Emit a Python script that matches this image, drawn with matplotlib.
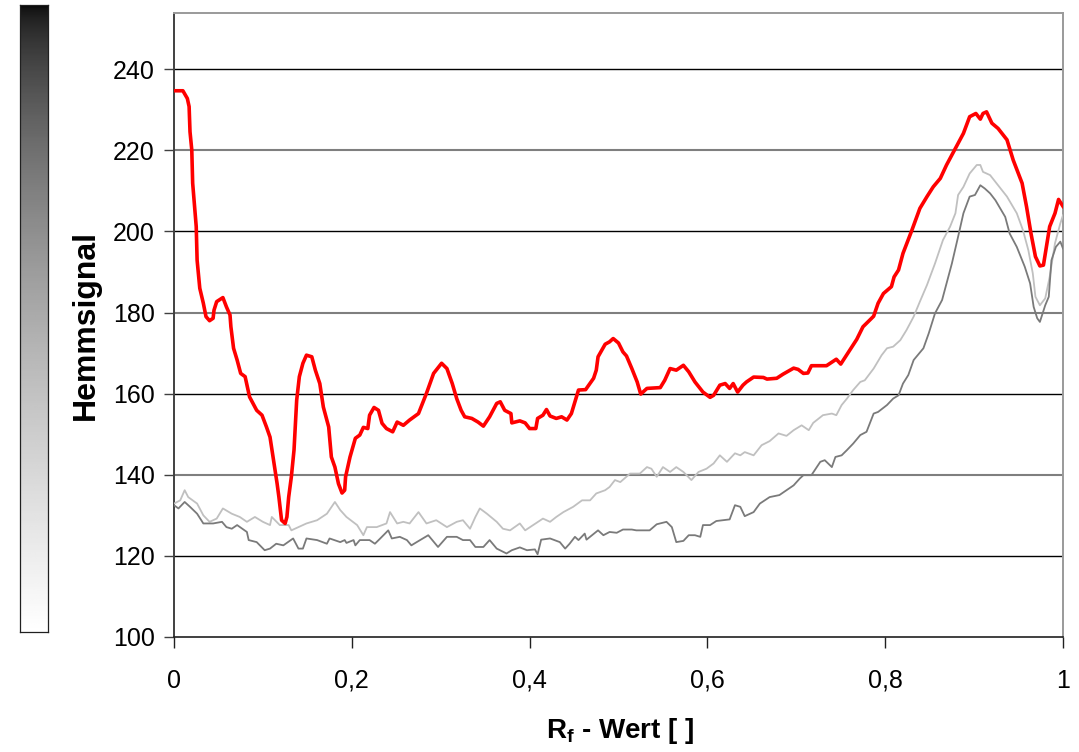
import numpy as np
import matplotlib
matplotlib.use("Agg")
import matplotlib.pyplot as plt

plt.rcParams['font.family'] = ['Liberation Sans', 'DejaVu Sans']

# ---- data (Rf value, Hemmsignal) ----
red_x = [0.000, 0.010, 0.015, 0.017, 0.018, 0.020, 0.021, 0.025, 0.026, 0.029, 0.033, 0.036, 0.040, 0.044, 0.045,
         0.048, 0.055, 0.059, 0.063, 0.064, 0.067, 0.071, 0.075, 0.080, 0.085, 0.093, 0.099, 0.104, 0.108, 0.112,
         0.116, 0.118, 0.121, 0.125, 0.127, 0.129, 0.132, 0.135, 0.138, 0.141, 0.145, 0.149, 0.155, 0.159, 0.164,
         0.168, 0.174, 0.177, 0.181, 0.185, 0.189, 0.192, 0.193, 0.198, 0.204, 0.209, 0.213, 0.218, 0.220, 0.225,
         0.230, 0.234, 0.239, 0.246, 0.251, 0.258, 0.265, 0.275, 0.284, 0.292, 0.301, 0.307, 0.313, 0.318, 0.323,
         0.327, 0.335, 0.342, 0.348, 0.355, 0.363, 0.367, 0.372, 0.379, 0.380, 0.389, 0.395, 0.400, 0.407, 0.409,
         0.415, 0.419, 0.423, 0.430, 0.436, 0.442, 0.447, 0.455, 0.463, 0.472, 0.475, 0.477, 0.485, 0.490, 0.494,
         0.500, 0.505, 0.509, 0.515, 0.521, 0.525, 0.532, 0.547, 0.552, 0.558, 0.565, 0.573, 0.579, 0.586, 0.595,
         0.603, 0.607, 0.614, 0.620, 0.625, 0.629, 0.634, 0.640, 0.644, 0.652, 0.663, 0.667, 0.678, 0.685, 0.697,
         0.702, 0.708, 0.713, 0.717, 0.734, 0.745, 0.750, 0.760, 0.768, 0.775, 0.787, 0.792, 0.798, 0.807, 0.810,
         0.815, 0.820, 0.830, 0.839, 0.847, 0.854, 0.862, 0.869, 0.878, 0.888, 0.895, 0.902, 0.907, 0.910, 0.914,
         0.920, 0.927, 0.937, 0.944, 0.954, 0.959, 0.964, 0.969, 0.974, 0.978, 0.985, 0.991, 0.995, 1.000]
red_y = [234.7, 234.7, 232.8, 230.8, 224.6, 220.1, 211.9, 201.2, 192.9, 186.0, 182.3, 179.0, 178.0, 178.6, 180.6,
         182.7, 183.7, 181.4, 179.4, 176.5, 171.2, 168.3, 165.0, 164.2, 159.2, 155.9, 154.7, 151.8, 149.3, 143.6,
         137.8, 134.5, 128.8, 128.0, 129.6, 134.5, 139.5, 146.1, 158.4, 164.2, 167.5, 169.5, 169.1, 165.8, 162.5,
         156.7, 151.8, 144.4, 141.9, 137.8, 135.5, 136.2, 139.5, 144.4, 149.0, 149.8, 151.7, 151.4, 154.7, 156.6,
         155.9, 152.7, 151.4, 150.6, 153.0, 152.2, 153.5, 155.1, 160.1, 165.0, 167.5, 166.2, 162.5, 158.8, 155.9,
         154.3, 153.9, 153.0, 152.0, 154.3, 157.6, 158.0, 155.9, 155.1, 152.8, 153.3, 152.8, 151.4, 151.4, 153.9,
         154.7, 156.1, 154.5, 153.9, 154.3, 153.5, 155.1, 160.9, 161.0, 163.8, 165.8, 169.1, 172.2, 172.8, 173.6,
         172.5, 170.3, 169.3, 166.2, 162.9, 159.9, 161.3, 161.5, 163.3, 166.2, 165.8, 167.0, 165.4, 162.9, 160.4,
         159.1, 159.6, 162.1, 162.5, 161.3, 162.5, 160.4, 162.1, 162.9, 164.1, 164.0, 163.6, 163.8, 164.8, 166.3,
         166.0, 165.0, 165.1, 166.9, 166.9, 168.5, 167.3, 170.7, 173.4, 176.5, 179.1, 182.3, 184.7, 186.4, 188.8,
         190.5, 194.6, 200.3, 205.7, 208.6, 211.0, 213.1, 216.4, 220.1, 224.2, 228.3, 229.1, 227.7, 229.1, 229.5,
         226.7, 225.4, 222.6, 217.6, 211.9, 206.1, 199.5, 193.8, 191.5, 191.7, 201.2, 204.5, 207.9, 206.2]

light_x = [0.000, 0.007, 0.012, 0.016, 0.026, 0.033, 0.040, 0.048, 0.055, 0.065, 0.074, 0.082, 0.091, 0.100, 0.108,
           0.110, 0.119, 0.129, 0.132, 0.140, 0.149, 0.161, 0.172, 0.181, 0.187, 0.194, 0.206, 0.213, 0.217, 0.228,
           0.239, 0.243, 0.251, 0.258, 0.265, 0.275, 0.284, 0.295, 0.307, 0.318, 0.325, 0.333, 0.339, 0.344, 0.352,
           0.363, 0.370, 0.378, 0.389, 0.395, 0.404, 0.415, 0.423, 0.430, 0.438, 0.449, 0.459, 0.468, 0.475, 0.485,
           0.490, 0.496, 0.502, 0.513, 0.524, 0.532, 0.537, 0.543, 0.550, 0.558, 0.565, 0.573, 0.582, 0.590, 0.599,
           0.607, 0.614, 0.622, 0.631, 0.637, 0.642, 0.652, 0.661, 0.670, 0.680, 0.689, 0.697, 0.706, 0.714, 0.719,
           0.730, 0.740, 0.745, 0.751, 0.757, 0.764, 0.772, 0.777, 0.787, 0.796, 0.802, 0.809, 0.817, 0.824, 0.832,
           0.839, 0.847, 0.856, 0.865, 0.873, 0.879, 0.882, 0.888, 0.895, 0.903, 0.907, 0.910, 0.918, 0.927, 0.937,
           0.948, 0.955, 0.961, 0.966, 0.969, 0.974, 0.980, 0.985, 0.991, 0.997, 1.000]
light_y = [132.9, 133.7, 136.2, 134.5, 132.9, 130.0, 128.4, 129.2, 131.7, 130.4, 129.6, 128.4, 129.6, 128.4, 127.6,
           129.6, 127.6, 127.6, 126.3, 127.1, 128.0, 128.8, 130.4, 133.3, 131.3, 129.6, 127.6, 125.1, 127.1, 127.1,
           128.0, 130.8, 128.0, 128.4, 128.0, 130.8, 128.0, 128.8, 127.1, 128.4, 128.8, 126.7, 129.6, 131.7, 130.4,
           128.4, 126.7, 126.3, 128.0, 126.3, 127.6, 129.2, 128.4, 129.6, 130.8, 132.1, 133.7, 133.7, 135.4, 136.2,
           137.0, 138.7, 138.2, 140.3, 140.3, 141.9, 141.5, 139.5, 141.9, 140.7, 141.9, 140.7, 138.7, 140.7, 141.5,
           142.8, 144.8, 143.2, 145.3, 144.8, 145.6, 144.8, 147.3, 148.3, 150.2, 149.6, 151.0, 152.2, 151.0, 152.8,
           154.7, 155.1, 154.7, 157.2, 158.8, 160.9, 162.9, 163.3, 166.2, 169.5, 171.2, 171.6, 173.2, 175.7, 179.0,
           182.7, 186.8, 192.1, 197.9, 201.2, 204.5, 209.0, 211.0, 214.3, 216.4, 216.4, 214.7, 213.9, 211.4, 208.6,
           204.5, 200.3, 195.4, 189.7, 183.9, 181.8, 183.5, 188.8, 197.1, 202.0, 204.0]

dark_x = [0.000, 0.005, 0.012, 0.018, 0.026, 0.033, 0.044, 0.054, 0.059, 0.065, 0.071, 0.082, 0.084, 0.093, 0.102,
          0.108, 0.115, 0.123, 0.134, 0.140, 0.145, 0.149, 0.161, 0.172, 0.175, 0.187, 0.192, 0.194, 0.202, 0.204,
          0.209, 0.220, 0.226, 0.232, 0.241, 0.245, 0.254, 0.262, 0.267, 0.273, 0.286, 0.297, 0.307, 0.318, 0.325,
          0.333, 0.339, 0.348, 0.355, 0.363, 0.374, 0.380, 0.389, 0.397, 0.406, 0.409, 0.413, 0.423, 0.434, 0.440,
          0.445, 0.451, 0.455, 0.462, 0.464, 0.477, 0.483, 0.490, 0.498, 0.505, 0.515, 0.520, 0.535, 0.543, 0.554,
          0.560, 0.565, 0.573, 0.579, 0.586, 0.592, 0.595, 0.603, 0.610, 0.625, 0.631, 0.637, 0.642, 0.652, 0.659,
          0.670, 0.681, 0.689, 0.697, 0.704, 0.708, 0.717, 0.727, 0.732, 0.740, 0.744, 0.751, 0.757, 0.764, 0.772,
          0.779, 0.787, 0.792, 0.802, 0.809, 0.815, 0.820, 0.826, 0.832, 0.843, 0.849, 0.856, 0.864, 0.869, 0.875,
          0.882, 0.888, 0.895, 0.901, 0.907, 0.912, 0.918, 0.924, 0.935, 0.940, 0.948, 0.957, 0.963, 0.967, 0.971,
          0.974, 0.980, 0.984, 0.987, 0.992, 0.997, 1.000]
dark_y = [132.5, 131.7, 133.3, 132.1, 130.4, 128.0, 128.0, 128.4, 127.1, 126.7, 127.6, 125.9, 123.9, 123.4, 121.4,
          121.8, 123.0, 122.6, 124.3, 121.8, 121.8, 124.3, 123.9, 123.0, 124.3, 123.4, 123.9, 123.2, 123.9, 122.6,
          123.9, 123.9, 123.0, 124.3, 126.3, 124.3, 124.7, 123.9, 122.6, 123.4, 125.1, 122.2, 124.7, 124.7, 123.9,
          123.9, 122.2, 122.2, 123.9, 121.8, 120.6, 121.4, 122.1, 121.4, 121.6, 120.4, 124.0, 124.3, 123.4, 121.8,
          123.0, 124.7, 123.9, 125.5, 124.0, 126.3, 125.1, 125.9, 125.7, 126.5, 126.5, 126.3, 126.3, 127.8, 128.4,
          127.1, 123.4, 123.7, 125.1, 125.1, 124.7, 127.6, 127.6, 128.6, 129.0, 132.5, 132.1, 129.8, 130.8, 132.9,
          134.5, 135.0, 136.2, 137.4, 139.1, 139.9, 139.9, 143.2, 143.6, 141.9, 144.4, 144.8, 146.1, 147.7, 149.8,
          150.6, 155.1, 155.5, 157.2, 158.8, 159.6, 162.5, 164.6, 168.3, 171.2, 174.9, 179.8, 183.1, 187.2, 192.1,
          198.7, 204.5, 208.6, 209.0, 211.4, 210.6, 209.4, 207.7, 203.6, 199.5, 196.2, 191.3, 187.2, 181.4, 178.6,
          177.7, 181.8, 183.9, 192.9, 196.2, 197.5, 195.8]

y_ticks = [100, 120, 140, 160, 180, 200, 220, 240]
x_ticks = [0, 0.2, 0.4, 0.6, 0.8, 1]
x_ticklabels = ["0", "0,2", "0,4", "0,6", "0,8", "1"]
y_label = "Hemmsignal"
x_label = r"R$_\mathregular{f}$ - Wert [ ]"

# ---- figure ----
W, H = 1079, 752
fig = plt.figure(figsize=(W / 100, H / 100), dpi=100)
fig.patch.set_facecolor("white")

# gradient bar on the left
gax = fig.add_axes([20 / W, 1 - 632 / H, 28 / W, 627 / H])
t = np.linspace(0, 1, 256).reshape(-1, 1)
grad = 0.04 + 0.96 * t ** 0.6
gax.imshow(grad, aspect="auto", cmap="gray", vmin=0, vmax=1, origin="upper")
gax.set_xticks([])
gax.set_yticks([])
for s in gax.spines.values():
    s.set_color("#202020")
    s.set_linewidth(0.9)

ax = fig.add_axes([174 / W, 1 - 637 / H, 889 / W, 624.5 / H])
ax.set_xlim(0, 1)
ax.set_ylim(100, 254)

for yv in y_ticks[1:]:
    col = "#7f7f7f" if yv in (220, 180, 140) else "#000000"
    lw = 1.5 if col != "#000000" else 1.0
    ax.axhline(yv, color=col, lw=lw, zorder=1)

ax.plot(light_x, light_y, color="#c0c0c0", lw=1.3, zorder=3)
ax.plot(dark_x, dark_y, color="#7a7a7a", lw=1.3, zorder=3)
ax.plot(red_x, red_y, color="#ff0000", lw=2.6, zorder=4, solid_joinstyle="round")

ax.set_yticks(y_ticks)
ax.set_xticks(x_ticks)
ax.set_xticklabels(x_ticklabels)
ax.tick_params(axis="y", direction="out", length=7, width=1, labelsize=18, pad=7, color="#404040")
ax.tick_params(axis="x", direction="out", length=8, width=1, labelsize=18, pad=15, color="#202020")

ax.spines["left"].set_color("#404040")
ax.spines["left"].set_linewidth(1.4)
ax.spines["bottom"].set_color("#202020")
ax.spines["bottom"].set_linewidth(1.2)
ax.spines["top"].set_color("#9a9a9a")
ax.spines["top"].set_linewidth(1.4)
ax.spines["right"].set_color("#9a9a9a")
ax.spines["right"].set_linewidth(1.4)

fig.text(86 / W, 1 - 325 / H, y_label, rotation=90, ha="center", va="center",
         fontsize=23, fontweight="bold")
fig.text(620 / W, 1 - 731 / H, x_label, ha="center", va="center",
         fontsize=20, fontweight="bold")

fig.savefig("out.png", dpi=100, facecolor="white")
